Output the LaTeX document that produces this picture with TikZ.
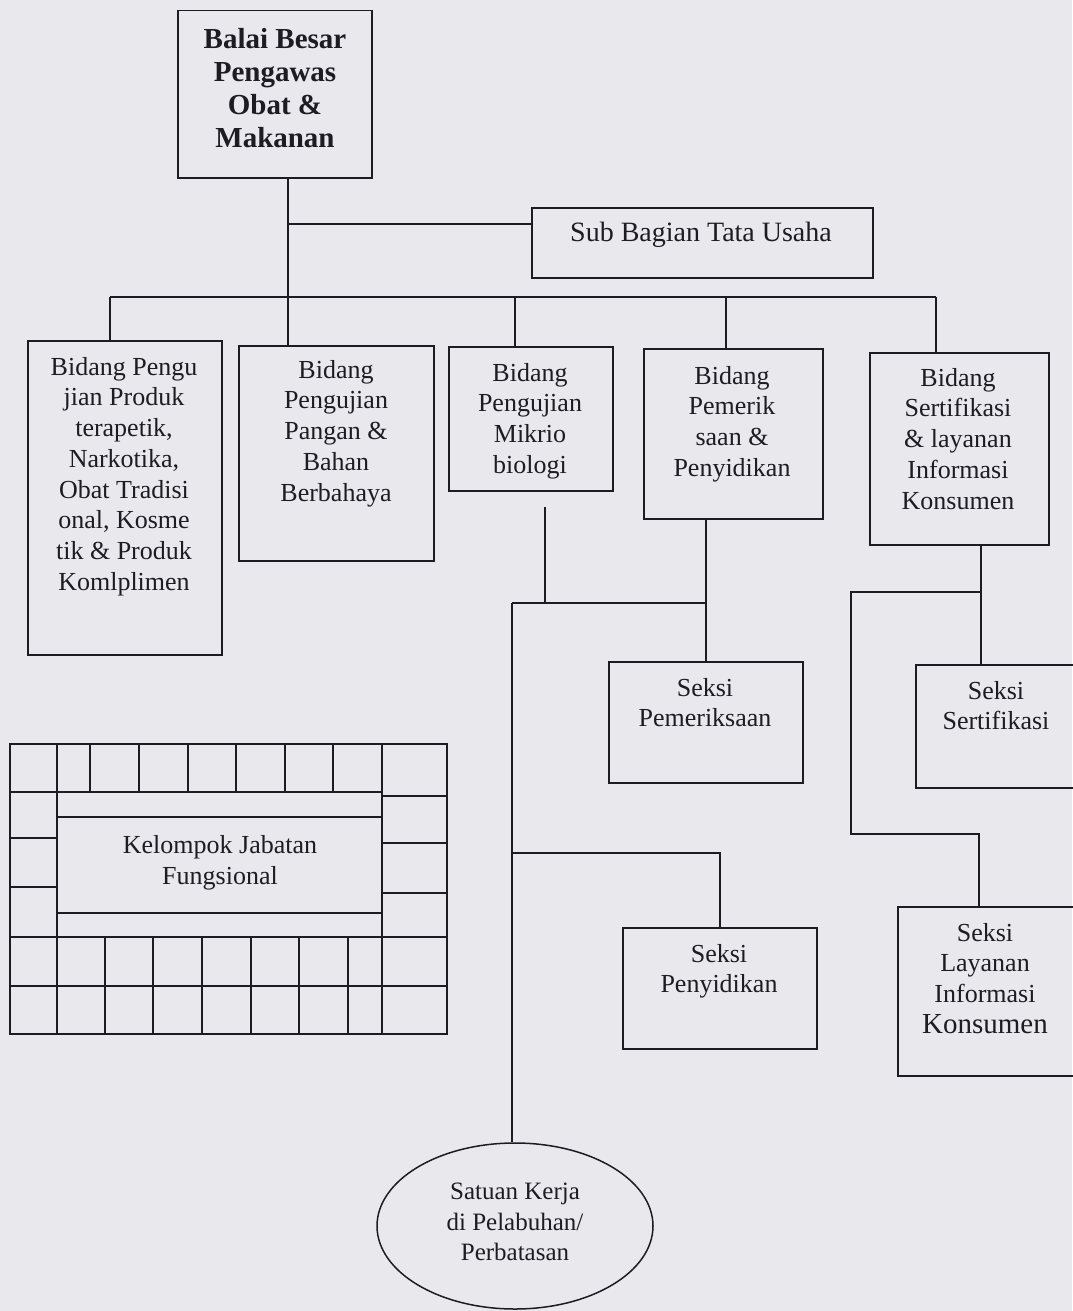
\documentclass[tikz,border=0pt]{standalone}
\usepackage{fontspec}
\setmainfont{Liberation Serif}
\usetikzlibrary{shapes.geometric}
\definecolor{bg}{RGB}{233,233,237}
\definecolor{ink}{RGB}{28,28,34}
\begin{document}
\begin{tikzpicture}[x=1pt,y=-1pt,
  orgbox/.style={draw=ink, line width=1.5pt, rectangle, inner sep=0pt, anchor=north west},
  txt/.style={inner sep=0pt, anchor=north, align=center, text=ink, font=\fontsize{26}{30.7}\selectfont},
  wire/.style={draw=ink, line width=1.5pt},
]
\useasboundingbox (0,0) rectangle (1072,1311);
\fill[bg] (0,0) rectangle (1072,1311);

% boxes
\node[orgbox, minimum width=194pt, minimum height=167pt] (b0) at (177,10) {};
\node[orgbox, minimum width=341pt, minimum height=70pt] (sub) at (531,207) {};
\node[orgbox, minimum width=194pt, minimum height=314pt] (b1) at (27,340) {};
\node[orgbox, minimum width=195pt, minimum height=215pt] (b2) at (238,345) {};
\node[orgbox, minimum width=164pt, minimum height=144pt] (b3) at (448,346) {};
\node[orgbox, minimum width=179pt, minimum height=170pt] (b4) at (643,348) {};
\node[orgbox, minimum width=179pt, minimum height=192pt] (b5) at (869,352) {};
\node[orgbox, minimum width=194pt, minimum height=121pt] (s1) at (608,661) {};
\node[orgbox, minimum width=194pt, minimum height=121pt] (s2) at (622,927) {};
\node[orgbox, minimum width=170pt, minimum height=123pt] (s3) at (915,664) {};
\node[orgbox, minimum width=188pt, minimum height=169pt] (s4) at (897,906) {};
\node[draw=ink, line width=1.5pt, ellipse, minimum width=276pt, minimum height=166pt, inner sep=0pt] (sat) at (515,1226) {};

% texts
\node[txt, font=\bfseries\fontsize{29}{33}\selectfont] (t0) at (275,28) {Balai Besar\\Pengawas\\Obat \&\\Makanan};
\node[txt, font=\fontsize{28}{32}\selectfont] (tsub) at (701,222) {Sub Bagian Tata Usaha};
\node[txt] (t1) at (124,357) {Bidang Pengu\\jian Produk\\terapetik,\\Narkotika,\\Obat Tradisi\\onal, Kosme\\tik \& Produk\\Komlplimen};
\node[txt] (t2) at (336,360) {Bidang\\Pengujian\\Pangan \&\\Bahan\\Berbahaya};
\node[txt] (t3) at (530,363) {Bidang\\Pengujian\\Mikrio\\biologi};
\node[txt] (t4) at (732,366) {Bidang\\Pemerik\\saan \&\\Penyidikan};
\node[txt] (t5) at (958,368) {Bidang\\Sertifikasi\\\& layanan\\Informasi\\Konsumen};
\node[txt] (ts1) at (705,678) {Seksi\\Pemeriksaan};
\node[txt] (ts2) at (719,944) {Seksi\\Penyidikan};
\node[txt] (ts3) at (996,681) {Seksi\\Sertifikasi};
\node[txt] (ts4) at (985,923) {Seksi\\Layanan\\Informasi\\{\fontsize{29}{31.5}\selectfont Konsumen}};
\node[txt, font=\fontsize{25}{30.5}\selectfont] (tsat) at (515,1183) {Satuan Kerja\\di Pelabuhan/\\Perbatasan};

% Kelompok Jabatan Fungsional grid
\node[orgbox, minimum width=437pt, minimum height=290pt] (grid) at (9,743) {};
\node[txt, font=\fontsize{26}{31}\selectfont] (tgrid) at (220,835) {Kelompok Jabatan\\Fungsional};
\draw[wire] (9,792) -- (57,792) -- (382,792) -- (382,796) -- (446,796);
\foreach \gx in {90,139,188,236,285,333} \draw[wire] (\gx,743) -- (\gx,792);
\draw[wire] (57,743) -- (57,1033);
\draw[wire] (382,743) -- (382,1033);
\draw[wire] (9,838) -- (57,838);
\draw[wire] (9,887) -- (57,887);
\draw[wire] (382,843) -- (446,843);
\draw[wire] (382,893) -- (446,893);
\draw[wire] (57,817) -- (382,817);
\draw[wire] (57,913) -- (382,913);
\draw[wire] (9,937) -- (446,937);
\draw[wire] (9,986) -- (446,986);
\foreach \gx in {105,153,202,251,299,348} \draw[wire] (\gx,937) -- (\gx,1033);

% connectors
\coordinate (tj) at (288,224);
\coordinate (busL) at (110,297);
\coordinate (busR) at (936,297);
\coordinate (d3) at (515,297);
\coordinate (d4) at (726,297);
\draw[wire] (b0.south -| tj) -- (tj |- b2.north);
\draw[wire] (tj) -- (tj -| sub.west);
\draw[wire] (busL) -- (busR);
\draw[wire] (busL) -- (busL |- b1.north);
\draw[wire] (d3) -- (d3 |- b3.north);
\draw[wire] (d4) -- (d4 |- b4.north);
\draw[wire] (busR) -- (busR |- b5.north);

\coordinate (m1) at (545,507);
\coordinate (m2) at (545,603);
\coordinate (vL) at (512,603);
\coordinate (vM) at (512,853);
\draw[wire] (m1) -- (m2);
\draw[wire] (vL) -- (vL -| s1.north);
\draw[wire] (b4.south -| s1.north) -- (s1.north);
\draw[wire] (vL) -- (vL |- sat.north);
\draw[wire] (vM) -- (vM -| s2.north) -- (s2.north);

\coordinate (r1) at (981,592);
\coordinate (r2) at (851,592);
\coordinate (r3) at (851,834);
\coordinate (r4) at (979,834);
\draw[wire] (b5.south -| r1) -- (r1 |- s3.north);
\draw[wire] (r1) -- (r2) -- (r3) -- (r4) -- (r4 |- s4.north);
\end{tikzpicture}
\end{document}
